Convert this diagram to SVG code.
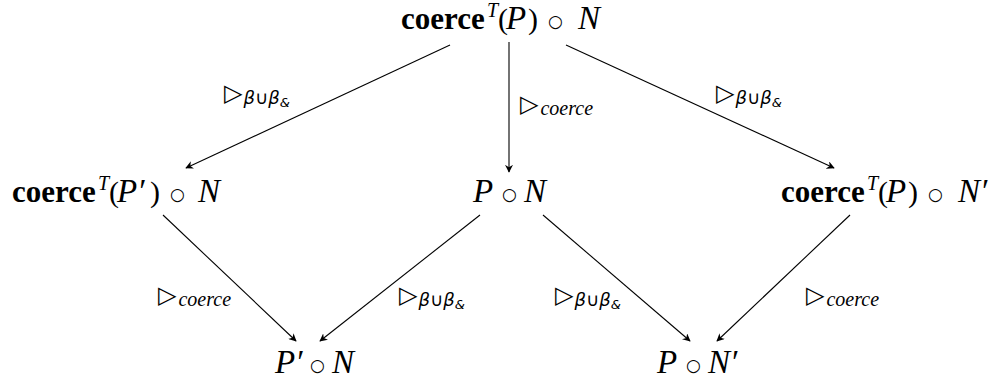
<svg xmlns="http://www.w3.org/2000/svg" width="1005" height="383" viewBox="0 0 1005 383">
<style>
.t{font-family:"Liberation Serif","DejaVu Serif",serif;font-size:30px;fill:#000}
.b{font-weight:bold;font-size:31px}
.i{font-style:italic;font-size:33px}
.o{font-family:"DejaVu Sans",sans-serif;font-size:17px}
.sup{font-size:20px;font-style:italic}
.tri{font-family:"DejaVu Sans",sans-serif;font-size:24px;font-weight:bold;fill:#000}
.sub{font-family:"DejaVu Sans",sans-serif;font-size:18px;font-style:italic;fill:#000}
.amp{font-family:"DejaVu Sans",sans-serif;font-size:13px;font-style:italic;fill:#000}
.subc{font-family:"Liberation Serif","DejaVu Serif",serif;font-size:20px;font-style:italic;fill:#000}
.e{stroke:#000;stroke-width:1.1;fill:none;marker-end:url(#ah)}
</style>
<defs>
<marker id="ah" viewBox="0 0 10 10" refX="9" refY="5" markerWidth="8" markerHeight="8" orient="auto" markerUnits="userSpaceOnUse">
<path d="M0,0 L10,5 L0,10 L3,5 Z" fill="#000"/>
</marker>
</defs>
<g id="connectors">
<line class="e" x1="450" y1="45" x2="186" y2="168"/>
<line class="e" x1="509" y1="42" x2="509" y2="172"/>
<line class="e" x1="566" y1="45" x2="834" y2="168"/>
<line class="e" x1="163" y1="215" x2="296" y2="341"/>
<line class="e" x1="480" y1="215" x2="320" y2="341"/>
<line class="e" x1="543" y1="215" x2="690" y2="341"/>
<line class="e" x1="850" y1="215" x2="717" y2="341"/>
</g>
<g id="labels">
<text x="224" y="101"><tspan class="tri">▷</tspan><tspan class="sub" dx="1" dy="3">β∪β</tspan><tspan class="amp" dy="3">&amp;</tspan></text>
<text x="520" y="112"><tspan class="tri">▷</tspan><tspan class="subc" dx="2" dy="3">coerce</tspan></text>
<text x="716" y="101"><tspan class="tri">▷</tspan><tspan class="sub" dx="1" dy="3">β∪β</tspan><tspan class="amp" dy="3">&amp;</tspan></text>
<text x="158" y="303"><tspan class="tri">▷</tspan><tspan class="subc" dx="2" dy="3">coerce</tspan></text>
<text x="399" y="303"><tspan class="tri">▷</tspan><tspan class="sub" dx="1" dy="3">β∪β</tspan><tspan class="amp" dy="3">&amp;</tspan></text>
<text x="555" y="303"><tspan class="tri">▷</tspan><tspan class="sub" dx="1" dy="3">β∪β</tspan><tspan class="amp" dy="3">&amp;</tspan></text>
<text x="806" y="303"><tspan class="tri">▷</tspan><tspan class="subc" dx="2" dy="3">coerce</tspan></text>
</g>
<g id="n_top">
<text class="t" y="29"><tspan class="b" x="401">coerce</tspan><tspan class="sup" x="487" y="17">T</tspan><tspan x="498" y="29">(</tspan><tspan class="i" x="506">P</tspan><tspan x="528">)</tspan><tspan class="o" x="548" y="27">○</tspan><tspan class="i" x="578" y="29">N</tspan></text>
</g>
<g id="n_left">
<text class="t" y="202"><tspan class="b" x="12">coerce</tspan><tspan class="sup" x="98" y="190">T</tspan><tspan x="109" y="202">(</tspan><tspan class="i" x="117">P′</tspan><tspan x="150">)</tspan><tspan class="o" x="170" y="200">○</tspan><tspan class="i" x="198" y="202">N</tspan></text>
</g>
<g id="n_mid">
<text class="t" y="202"><tspan class="i" x="473">P</tspan><tspan class="o" x="502" y="200">○</tspan><tspan class="i" x="524" y="202">N</tspan></text>
</g>
<g id="n_right">
<text class="t" y="202"><tspan class="b" x="781">coerce</tspan><tspan class="sup" x="867" y="190">T</tspan><tspan x="878" y="202">(</tspan><tspan class="i" x="886">P</tspan><tspan x="908">)</tspan><tspan class="o" x="928" y="200">○</tspan><tspan class="i" x="958" y="202">N′</tspan></text>
</g>
<g id="n_bl">
<text class="t" y="373"><tspan class="i" x="275">P′</tspan><tspan class="o" x="310" y="371">○</tspan><tspan class="i" x="332" y="373">N</tspan></text>
</g>
<g id="n_br">
<text class="t" y="373"><tspan class="i" x="657">P</tspan><tspan class="o" x="686" y="371">○</tspan><tspan class="i" x="708" y="373">N′</tspan></text>
</g>
</svg>
